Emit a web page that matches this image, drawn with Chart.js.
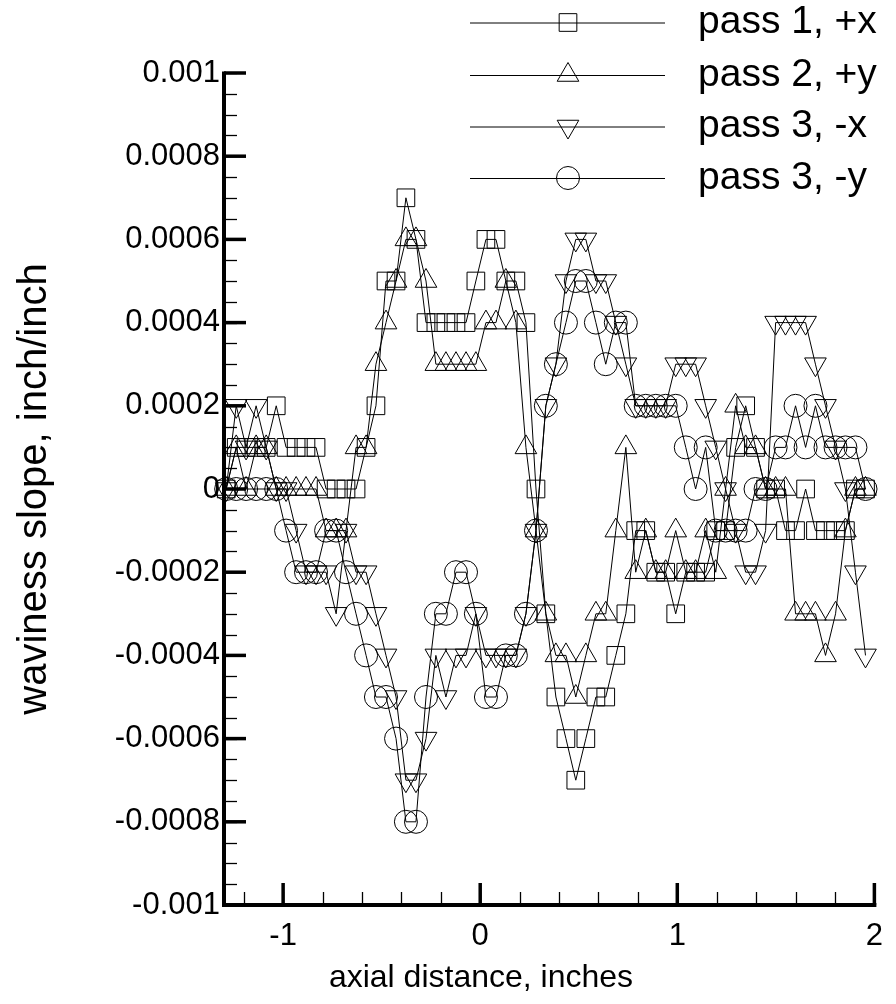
<!DOCTYPE html>
<html><head><meta charset="utf-8">
<script src="https://cdn.jsdelivr.net/npm/chart.js@4.4.0/dist/chart.umd.min.js"></script>
<style>html,body{margin:0;padding:0;background:#fff}#wrap{width:896px;height:1004px;position:relative}</style>
</head><body><div id="wrap"><canvas id="c"></canvas></div>
<script>
// axial positions (inches)
const axialDistance = [-1.289,-1.238,-1.188,-1.137,-1.086,-1.035,-0.985,-0.934,-0.884,-0.833,
 -0.782,-0.731,-0.681,-0.630,-0.579,-0.529,-0.478,-0.427,-0.377,-0.326,
 -0.275,-0.225,-0.174,-0.123,-0.072,-0.022,0.029,0.080,0.130,0.181,
 0.232,0.283,0.333,0.384,0.435,0.485,0.536,0.587,0.637,0.688,
 0.739,0.789,0.840,0.891,0.941,0.992,1.043,1.093,1.144,1.195,
 1.245,1.296,1.347,1.397,1.448,1.499,1.549,1.600,1.651,1.701,
 1.752,1.803,1.853,1.904,1.955];
// waviness slope, inch/inch
const pass1PlusX = [0,0.0001,0.0001,0.0001,0.0001,0.0002,0.0001,0.0001,0.0001,0.0001,
 0,0,0,0,0.0001,0.0002,0.0005,0.0005,0.0007,0.0006,
 0.0004,0.0004,0.0004,0.0004,0.0004,0.0005,0.0006,0.0006,0.0005,0.0005,
 0.0004,0,-0.0003,-0.0005,-0.0006,-0.0007,-0.0006,-0.0005,-0.0005,-0.0004,
 -0.0003,-0.0001,-0.0001,-0.0002,-0.0002,-0.0003,-0.0002,-0.0002,-0.0002,-0.0001,
 -0.0001,0.0001,0.0002,0.0001,0,0,-0.0001,-0.0001,0,-0.0001,
 -0.0001,-0.0001,-0.0001,0,0];
const pass2PlusY = [0,0.0001,0,0.0001,0.0001,0,0,0,0,0,
 -0.0001,-0.0001,-0.0001,0.0001,0.0001,0.0003,0.0004,0.0005,0.0006,0.0006,
 0.0005,0.0003,0.0003,0.0003,0.0003,0.0003,0.0004,0.0004,0.0005,0.0004,
 0.0001,-0.0001,-0.0003,-0.0004,-0.0004,-0.0005,-0.0004,-0.0003,-0.0003,-0.0001,
 0.0001,-0.0002,-0.0001,-0.0002,-0.0002,-0.0001,-0.0002,-0.0002,-0.0001,-0.0002,
 0,0.0002,0.0001,0.0001,0,0,0,-0.0003,-0.0003,-0.0003,
 -0.0004,-0.0003,-0.0001,0,0];
const pass3MinusX = [0,0.0002,0.0001,0.0002,0.0001,0,0,-0.0001,-0.0002,-0.0002,
 -0.0002,-0.0003,-0.0001,-0.0002,-0.0002,-0.0003,-0.0004,-0.0005,-0.0007,-0.0007,
 -0.0006,-0.0004,-0.0005,-0.0004,-0.0004,-0.0003,-0.0004,-0.0004,-0.0004,-0.0004,
 -0.0003,-0.0001,0.0002,0.0003,0.0005,0.0006,0.0006,0.0005,0.0005,0.0004,
 0.0003,0.0002,0.0002,0.0002,0.0002,0.0003,0.0003,0.0003,0.0002,0.0001,
 0,-0.0001,-0.0002,-0.0002,-0.0001,0.0004,0.0004,0.0004,0.0004,0.0003,
 0.0002,0.0001,0,-0.0002,-0.0004];
const pass3MinusY = [0,0,0,0,0,0,-0.0001,-0.0002,-0.0002,-0.0002,
 -0.0001,-0.0001,-0.0002,-0.0003,-0.0004,-0.0005,-0.0005,-0.0006,-0.0008,-0.0008,
 -0.0005,-0.0003,-0.0003,-0.0002,-0.0002,-0.0003,-0.0005,-0.0005,-0.0004,-0.0004,
 -0.0003,-0.0001,0.0002,0.0003,0.0004,0.0005,0.0005,0.0004,0.0003,0.0004,
 0.0004,0.0002,0.0002,0.0002,0.0002,0.0002,0.0001,0,0.0001,-0.0001,
 -0.0001,-0.0001,-0.0001,0,0,0.0001,0.0001,0.0002,0.0001,0.0002,
 0.0001,0.0001,0.0001,0.0001,0];
const seriesNames = ['pass 1, +x','pass 2, +y','pass 3, -x','pass 3, -y'];
const xTickValues = [-1,0,1,2];
const yTickValues = [-0.001,-0.0008,-0.0006,-0.0004,-0.0002,0,0.0002,0.0004,0.0006,0.0008,0.001];
const xTitle = 'axial distance, inches';
const yTitle = 'waviness slope, inch/inch';

const FONT = '"Liberation Sans", Arial, Helvetica, sans-serif';
const markerStyles = [
  {pointStyle:'rect', radius:12.5, rotation:0},
  {pointStyle:'triangle', radius:12.5, rotation:0},
  {pointStyle:'triangle', radius:12.5, rotation:180},
  {pointStyle:'circle', radius:11.5, rotation:0}
];
const seriesValues = [pass1PlusX, pass2PlusY, pass3MinusX, pass3MinusY];

const datasets = seriesValues.map((vals, i) => ({
  label: seriesNames[i],
  data: vals.map((v, k) => ({x: axialDistance[k], y: v})),
  showLine: true,
  borderColor: '#000',
  borderWidth: 1,
  backgroundColor: 'rgba(0,0,0,0)',
  pointStyle: markerStyles[i].pointStyle,
  pointRadius: markerStyles[i].radius,
  pointRotation: markerStyles[i].rotation,
  pointBorderWidth: 1,
  pointBorderColor: '#000',
  pointBackgroundColor: 'rgba(0,0,0,0)',
  pointHoverRadius: markerStyles[i].radius,
  tension: 0,
  clip: false
}));

const axisPlugin = {
  id: 'tecAxes',
  afterDraw(chart) {
    const {ctx, chartArea: a, scales: {x, y}} = chart;
    ctx.save();
    ctx.strokeStyle = '#000';
    ctx.lineWidth = 1.3;
    for (let i = 0; i <= 40; i++) {
      const v = -0.001 + i * 0.00005;
      const py = Math.round(y.getPixelForValue(v)) + 0.5;
      ctx.beginPath(); ctx.moveTo(a.left, py); ctx.lineTo(a.left + 13, py); ctx.stroke();
    }
    for (let i = 0; i <= 16; i++) {
      const v = -1.2 + i * 0.2;
      const px = Math.round(x.getPixelForValue(v)) + 0.5;
      ctx.beginPath(); ctx.moveTo(px, a.bottom); ctx.lineTo(px, a.bottom - 13); ctx.stroke();
    }
    ctx.lineWidth = 3.5;
    yTickValues.forEach(v => {
      const py = y.getPixelForValue(v);
      ctx.beginPath(); ctx.moveTo(a.left, py); ctx.lineTo(a.left + 22, py); ctx.stroke();
    });
    xTickValues.forEach(v => {
      const px = x.getPixelForValue(v);
      ctx.beginPath(); ctx.moveTo(px, a.bottom); ctx.lineTo(px, a.bottom - 22); ctx.stroke();
    });
    ctx.lineWidth = 4;
    ctx.beginPath();
    ctx.moveTo(a.left, a.top - 1.5);
    ctx.lineTo(a.left, a.bottom + 2);
    ctx.moveTo(a.left - 2, a.bottom);
    ctx.lineTo(a.right + 2, a.bottom);
    ctx.stroke();
    // x axis title
    ctx.fillStyle = '#000';
    ctx.font = '32px ' + FONT;
    ctx.textAlign = 'center';
    ctx.textBaseline = 'middle';
    ctx.fillText(xTitle, 481, 978);
    ctx.restore();
  }
};

const legendPlugin = {
  id: 'tecLegend',
  afterDraw(chart) {
    const ctx = chart.ctx;
    const rows = [22.5, 75, 126.5, 178];
    ctx.save();
    seriesNames.forEach((name, i) => {
      const yy = rows[i];
      ctx.strokeStyle = '#000';
      ctx.lineWidth = 1;
      ctx.beginPath(); ctx.moveTo(470, yy + 0.5); ctx.lineTo(665, yy + 0.5); ctx.stroke();
      ctx.fillStyle = 'rgba(0,0,0,0)';
      Chart.helpers.drawPoint(ctx, {
        pointStyle: markerStyles[i].pointStyle,
        radius: markerStyles[i].radius,
        rotation: markerStyles[i].rotation,
        borderWidth: 1
      }, 568, yy);
      ctx.fillStyle = '#000';
      ctx.font = '39px ' + FONT;
      ctx.textAlign = 'left';
      ctx.textBaseline = 'middle';
      ctx.fillText(name, 698, yy);
    });
    ctx.restore();
  }
};

new Chart(document.getElementById('c'), {
  type: 'scatter',
  data: {datasets},
  options: {
    responsive: true,
    maintainAspectRatio: false,
    animation: false,
    events: [],
    layout: {padding: {top: 73, right: 20, left: 0, bottom: 0}},
    plugins: {legend: {display: false}, tooltip: {enabled: false}},
    scales: {
      x: {
        type: 'linear', position: 'bottom', min: -1.3, max: 2,
        afterFit: s => { s.height = 99; },
        afterBuildTicks: s => { s.ticks = xTickValues.map(v => ({value: v})); },
        grid: {display: false, drawTicks: false},
        border: {display: false},
        ticks: {autoSkip: false, maxRotation: 0, padding: 13, color: '#000',
          font: {family: FONT, size: 31}, callback: v => String(v)},
        title: {display: false}
      },
      y: {
        type: 'linear', position: 'left', min: -0.001, max: 0.001,
        afterFit: s => { s.width = 224; },
        afterBuildTicks: s => { s.ticks = yTickValues.map(v => ({value: v})); },
        grid: {display: false, drawTicks: false},
        border: {display: false},
        ticks: {autoSkip: false, padding: 4, color: '#000',
          font: {family: FONT, size: 31},
          callback: v => { const r = Math.round(v * 1e5) / 1e5; return r === 0 ? '0' : String(r); }},
        title: {display: true, text: yTitle, color: '#000',
          font: {family: FONT, size: 40}, padding: {top: 11, bottom: 0}}
      }
    }
  },
  plugins: [axisPlugin, legendPlugin]
});
</script></body></html>
